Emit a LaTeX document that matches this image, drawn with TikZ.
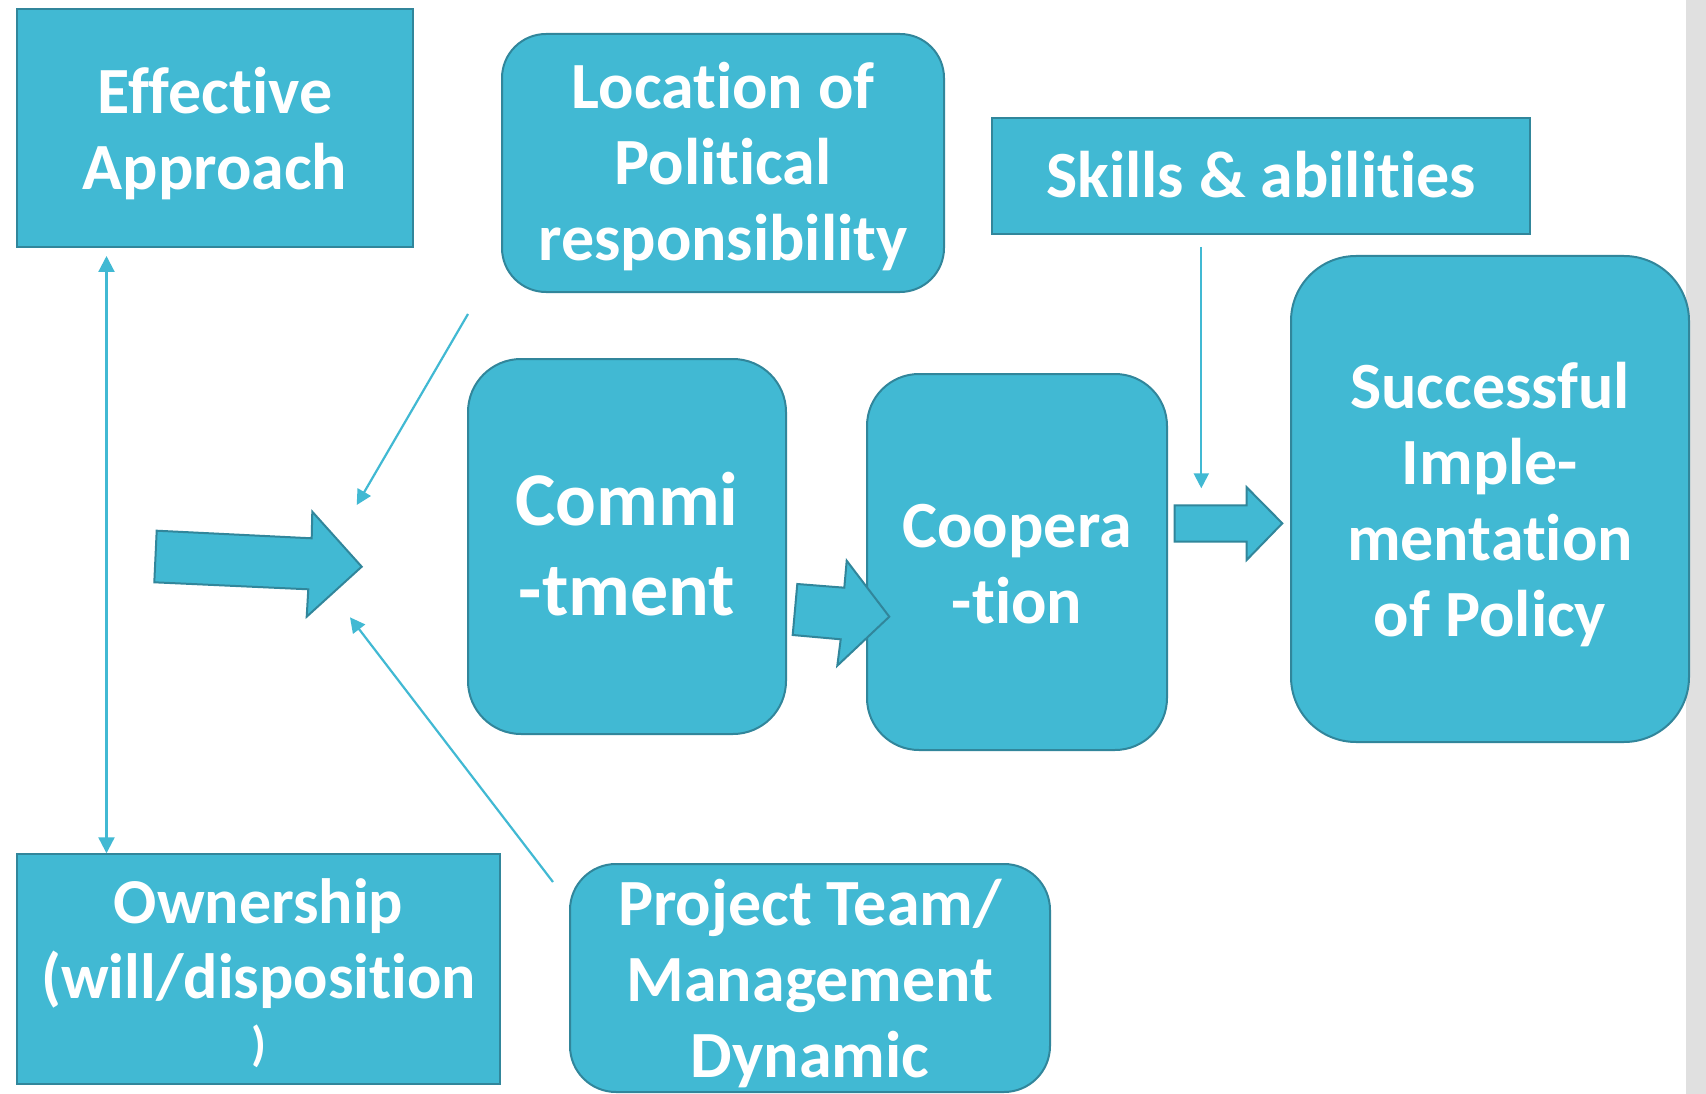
\documentclass[tikz,border=0pt]{standalone}
\usepackage{fontspec}
\setmainfont{Carlito}[Ligatures=NoCommon]
\usetikzlibrary{arrows.meta}
\definecolor{boxfill}{HTML}{41B9D3}
\definecolor{boxline}{HTML}{31869B}
\definecolor{sidebar}{HTML}{E0E0E0}
\tikzset{
  box/.style={draw=boxline, fill=boxfill, line width=2pt, inner sep=0pt, outer sep=0pt},
  rbox/.style={box, rounded corners=#1},
  txt/.style={text=white, font=\bfseries\fontsize{66}{76}\selectfont, align=center, anchor=base, inner sep=0pt},
  bigtxt/.style={txt, font=\bfseries\fontsize{76}{90}\selectfont},
  smalltxt/.style={txt, font=\bfseries\fontsize{64}{75}\selectfont},
  link/.style={draw=boxfill, line width=2.2pt, -{Triangle[length=15pt,width=15pt]}},
  dlink/.style={draw=boxfill, line width=2.2pt, {Triangle[length=16pt,width=16pt]}-{Triangle[length=16pt,width=16pt]}},
  blockarrow/.style={draw=boxline, fill=boxfill, line width=2pt, line join=miter}
}
\begin{document}
\begin{tikzpicture}[x=1pt,y=-1pt]
\useasboundingbox (0,0) rectangle (1706,1094);
\fill[white] (0,0) rectangle (1706,1094);
% grey strip on the right edge
\fill[sidebar] (1686,0) rectangle (1706,1094);

% boxes
\node[box, minimum width=396pt, minimum height=238pt] (eff) at (215,128) {};
\node[rbox=44pt, minimum width=442pt, minimum height=258pt] (loc) at (723,163) {};
\node[box, minimum width=538pt, minimum height=116pt] (skl) at (1261,176) {};
\node[rbox=65pt, minimum width=398pt, minimum height=486pt] (suc) at (1490,499) {};
\node[rbox=53pt, minimum width=318pt, minimum height=375pt] (com) at (627,546.5) {};
\node[rbox=52pt, minimum width=300pt, minimum height=376pt] (coo) at (1017,562) {};
\node[box, minimum width=483pt, minimum height=230pt] (own) at (258.5,969) {};
\node[rbox=46pt, minimum width=480pt, minimum height=228pt] (prj) at (810,978) {};

% labels (placed by the baseline of their last line)
\node[txt] (effT) at (215,190) {Effective\\Approach};
\node[txt] (locT) at (723,261) {Location of\\Political\\responsibility};
\node[txt] (sklT) at (1261,198) {Skills \& abilities};
\node[txt] (sucT) at (1490,636) {Successful\\Imple-\\mentation\\of Policy};
\node[bigtxt] (comT) at (627,615) {Commi\\-tment};
\node[txt] (cooT) at (1017,623) {Coopera\\-tion};
\node[smalltxt] (ownT) at (258.5,1060) {Ownership\\(will/disposition\\[-13pt]{\fontsize{48}{56}\selectfont )}};
\node[txt] (prjT) at (810,1077) {Project Team/\\Management\\Dynamic};

% block arrows
\draw[blockarrow] (156.7,530.7) -- (311.7,538.3) -- (312.3,511.7) -- (361.7,566.7)
  -- (306.7,616.7) -- (308.3,589.3) -- (154.3,582.3) -- cycle;
\draw[blockarrow] (797.3,584) -- (844.3,587.7) -- (846.7,560.7) -- (889.3,616.7)
  -- (837.3,665.7) -- (840.7,639.3) -- (792.7,635) -- cycle;
\draw[blockarrow] (1174.7,505.3) -- (1246.7,505.3) -- (1246.7,487.3) -- (1282.3,523.3)
  -- (1246.7,560) -- (1246.7,541.7) -- (1174.7,541.7) -- cycle;

% thin connectors
\coordinate (locFrom) at (468,314);
\coordinate (locTo) at (356.7,505);
\coordinate (prjFrom) at (553,882);
\coordinate (prjTo) at (350,617.3);
\coordinate (sklFrom) at (1201.3,247);
\coordinate (sklTo) at (1201.3,488.3);
\coordinate (effEnd) at (106.5,256);
\coordinate (ownEnd) at (106.5,853.3);
\draw[link] (locFrom) -- (locTo);
\draw[link] (prjFrom) -- (prjTo);
\draw[link] (sklFrom) -- (sklTo);
\draw[dlink] (effEnd) -- (ownEnd);
\end{tikzpicture}
\end{document}
